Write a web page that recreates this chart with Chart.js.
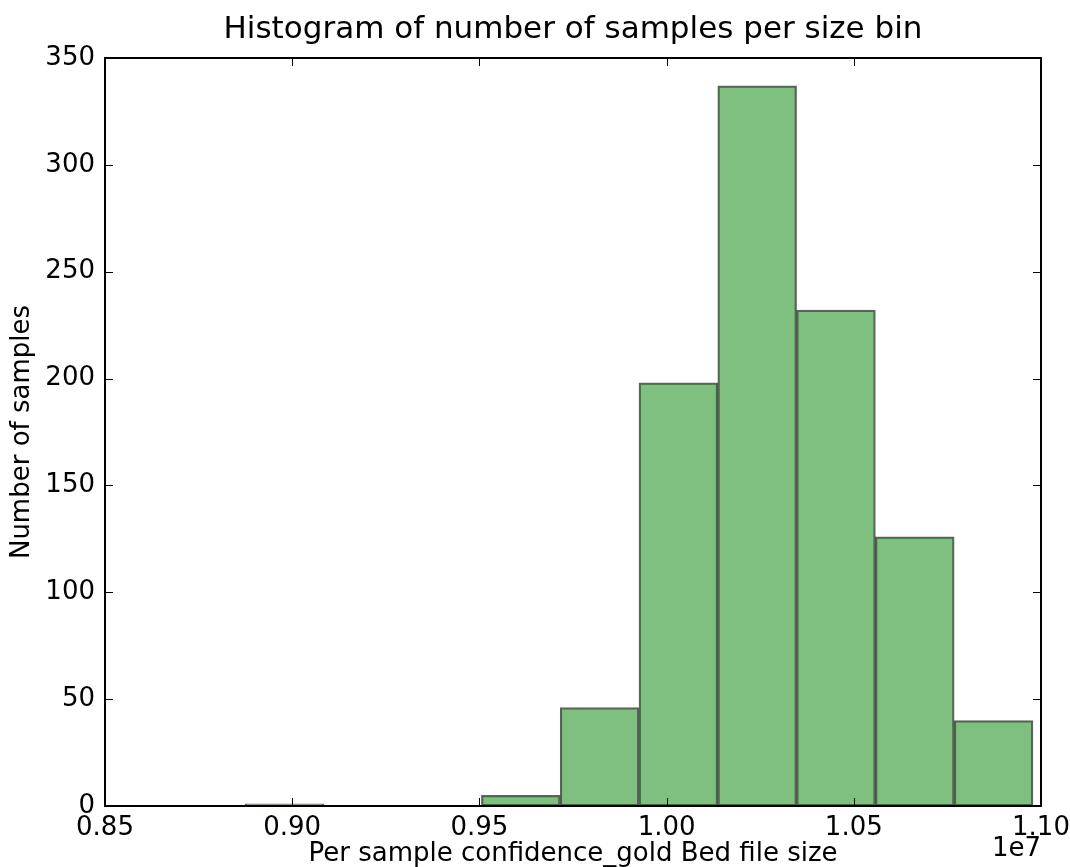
<!DOCTYPE html>
<html>
<head>
<meta charset="utf-8">
<script src="https://cdn.jsdelivr.net/npm/chart.js@4/dist/chart.umd.min.js"></script>
<style>
  html, body { margin: 0; padding: 0; background: #ffffff; }
  #wrap { width: 1070px; height: 867px; }
</style>
</head>
<body>
<div id="wrap"><canvas id="c" width="1070" height="867"></canvas></div>
<script>
// Bin edges (raw file size in bytes) and counts
const binEdges = [8873900, 9084400, 9294800, 9505300, 9715800, 9926200, 10136700, 10347200, 10557600, 10768100, 10978600];
const binCounts = [1, 0, 0, 5, 46, 198, 337, 232, 126, 40];
// Red dashed "best fit" line drawn at the bin edges (values are ~0 on this scale)
const fitValues = [0, 0, 0, 0, 0, 0, 0, 0, 0, 0, 0];
const xTickValues = [8500000, 9000000, 9500000, 10000000, 10500000, 11000000];
const yTickValues = [0, 50, 100, 150, 200, 250, 300, 350];

const titleText = 'Histogram of number of samples per size bin';
const xLabel = 'Per sample confidence_gold Bed file size';
const yLabel = 'Number of samples';
const offsetText = '1e7';

const FONT = "'DejaVu Sans', 'Bitstream Vera Sans', sans-serif";

const barData = binCounts.map((c, i) => ({ x: (binEdges[i] + binEdges[i + 1]) / 2, y: c }));
const lineData = binEdges.map((e, i) => ({ x: e, y: fitValues[i] }));

const framePlugin = {
  id: 'frame',
  afterDraw(chart) {
    const { ctx, chartArea: a, scales } = chart;
    const xs = scales.x, ys = scales.y;
    ctx.save();
    ctx.strokeStyle = '#000';
    ctx.lineWidth = 1;
    const tl = 8;
    ctx.beginPath();
    xTickValues.forEach(v => {
      const px = Math.round(xs.getPixelForValue(v)) + 0.5;
      ctx.moveTo(px, a.bottom); ctx.lineTo(px, a.bottom - tl);
      ctx.moveTo(px, a.top); ctx.lineTo(px, a.top + tl);
    });
    yTickValues.forEach(v => {
      const py = Math.round(ys.getPixelForValue(v)) + 0.5;
      ctx.moveTo(a.left, py); ctx.lineTo(a.left + tl, py);
      ctx.moveTo(a.right, py); ctx.lineTo(a.right - tl, py);
    });
    ctx.stroke();
    ctx.lineWidth = 2;
    ctx.strokeStyle = '#000';
    ctx.strokeRect(a.left, a.top, a.right - a.left, a.bottom - a.top);
    ctx.fillStyle = '#000';
    ctx.font = '26px ' + FONT;
    ctx.textAlign = 'right';
    ctx.textBaseline = 'middle';
    ctx.fillText(offsetText, a.right, 849);
    // title centred over the plot area
    ctx.font = '31px ' + FONT;
    ctx.textAlign = 'center';
    ctx.textBaseline = 'middle';
    ctx.fillText(titleText, (a.left + a.right) / 2, 30);
    ctx.restore();
  }
};

new Chart(document.getElementById('c'), {
  data: {
    datasets: [
      {
        type: 'bar',
        data: barData,
        backgroundColor: 'rgba(0,128,0,0.5)',
        borderColor: 'rgba(0,0,0,0.62)',
        borderWidth: 1.6,
        borderSkipped: false,
        barPercentage: 1.0,
        categoryPercentage: 1.0,
        order: 2
      },
      {
        type: 'line',
        data: lineData,
        borderColor: 'rgba(220,30,30,0.8)',
        borderWidth: 2,
        borderDash: [12, 12],
        pointRadius: 0,
        fill: false,
        order: 1
      }
    ]
  },
  options: {
    responsive: false,
    animation: false,
    devicePixelRatio: 1,
    layout: { padding: { left: 0, right: 29, top: 58, bottom: 0 } },
    plugins: {
      legend: { display: false },
      tooltip: { enabled: false },
      title: { display: false }
    },
    scales: {
      x: {
        type: 'linear',
        offset: false,
        min: 8500000,
        max: 11000000,
        afterFit(scale) {
          scale.height = 61;
          scale.paddingLeft = 0;
          scale.paddingRight = 0;
        },
        afterBuildTicks(scale) { scale.ticks = xTickValues.map(v => ({ value: v })); },
        grid: { display: false, drawTicks: false, offset: false },
        border: { display: false },
        ticks: {
          autoSkip: false,
          maxRotation: 0,
          padding: 7,
          color: '#000',
          font: { family: FONT, size: 26 },
          callback: v => (v / 1e7).toFixed(2)
        },
        title: {
          display: true,
          text: xLabel,
          color: '#000',
          font: { family: FONT, size: 26, lineHeight: 1.2 },
          padding: { top: 0, bottom: -3 }
        }
      },
      y: {
        type: 'linear',
        min: 0,
        max: 350,
        afterFit(scale) {
          scale.width = 105;
          scale.paddingTop = 0;
          scale.paddingBottom = 0;
        },
        afterBuildTicks(scale) { scale.ticks = yTickValues.map(v => ({ value: v })); },
        grid: { display: false, drawTicks: false },
        border: { display: false },
        ticks: {
          autoSkip: false,
          padding: 10,
          color: '#000',
          font: { family: FONT, size: 26 }
        },
        title: {
          display: true,
          text: yLabel,
          color: '#000',
          font: { family: FONT, size: 26, lineHeight: 1.2 },
          padding: { top: 7, bottom: 0 }
        }
      }
    }
  },
  plugins: [framePlugin]
});
</script>
</body>
</html>
